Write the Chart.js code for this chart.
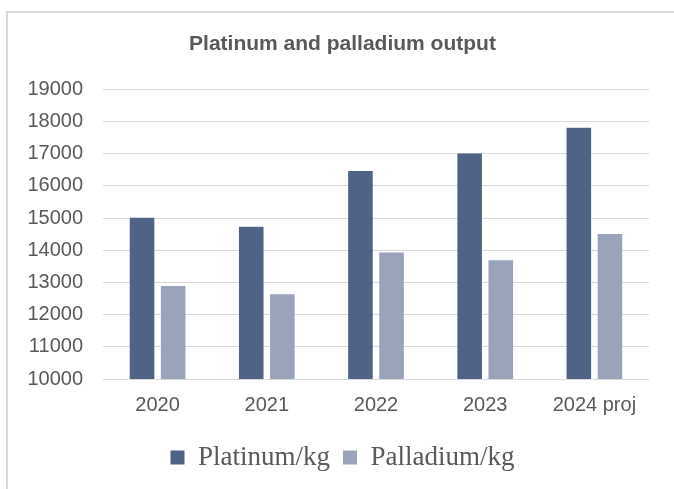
<!DOCTYPE html>
<html>
<head>
<meta charset="utf-8">
<script src="https://cdn.jsdelivr.net/npm/chart.js@4"></script>
<style>
  html, body { margin: 0; padding: 0; background: #ffffff; }
  #wrap { position: relative; width: 674px; height: 489px; overflow: hidden; }
  #frame { position: absolute; left: 6px; top: 11px; width: 700px; height: 500px;
           border-left: 2px solid #d9d9d9; border-top: 2px solid #d9d9d9; }
  #chart { position: absolute; left: 0; top: 0; }
</style>
</head>
<body>
<div id="wrap">
  <div id="frame"></div>
  <canvas id="chart" width="674" height="489"></canvas>
</div>
<script>
// Datos del gráfico
const years = ['2020', '2021', '2022', '2023', '2024 proj'];
const platinum = [15010, 14730, 16460, 17000, 17800];
const palladium = [12890, 12630, 13930, 13690, 14500];
const yMin = 10000;
const yMax = 19000;
const yStep = 1000;

const textColor = '#595959';
const gridColor = '#d9d9d9';
const padLeft = 25;

const ctx = document.getElementById('chart').getContext('2d');
const chart = new Chart(ctx, {
  type: 'bar',
  data: {
    labels: years,
    datasets: [
      {
        label: 'Platinum/kg',
        data: platinum,
        backgroundColor: '#4f6387',
        borderWidth: 0,
        categoryPercentage: 0.57,
        barPercentage: 0.79
      },
      {
        label: 'Palladium/kg',
        data: palladium,
        backgroundColor: '#99a3ba',
        borderWidth: 0,
        categoryPercentage: 0.57,
        barPercentage: 0.79
      }
    ]
  },
  options: {
    responsive: false,
    animation: false,
    layout: { padding: { left: padLeft, right: 14, top: 0, bottom: 8 } },
    plugins: {
      tooltip: { enabled: false },
      title: {
        display: true,
        text: 'Platinum and palladium output',
        color: textColor,
        font: { family: '"Liberation Sans", Arial, sans-serif', size: 21, weight: 'bold' },
        padding: { top: 32, bottom: 32 }
      },
      legend: {
        position: 'bottom',
        labels: {
          boxWidth: 14,
          boxHeight: 14,
          padding: 13,
          color: textColor,
          font: { family: '"Liberation Serif", "Times New Roman", serif', size: 27 }
        }
      }
    },
    scales: {
      x: {
        grid: { display: false, drawTicks: false },
        border: { display: false },
        ticks: {
          color: textColor,
          padding: 14,
          maxRotation: 0,
          autoSkip: false,
          font: { family: '"Liberation Sans", Arial, sans-serif', size: 20 }
        }
      },
      y: {
        min: yMin,
        max: yMax,
        border: { display: false },
        grid: { color: gridColor, lineWidth: 1, drawTicks: false },
        ticks: {
          stepSize: yStep,
          color: textColor,
          padding: 20,
          font: { family: '"Liberation Sans", Arial, sans-serif', size: 20 },
          callback: (v) => String(v)
        },
        afterFit: (scale) => { scale.width = 103 - padLeft; }
      },
      // eje vacío a la derecha, solo para dejar margen entre el área y el borde
      yRight: {
        position: 'right',
        display: true,
        grid: { display: false, drawTicks: false },
        border: { display: false },
        ticks: { display: false },
        afterFit: (scale) => { scale.width = 11; }
      }
    }
  }
});
</script>
</body>
</html>
